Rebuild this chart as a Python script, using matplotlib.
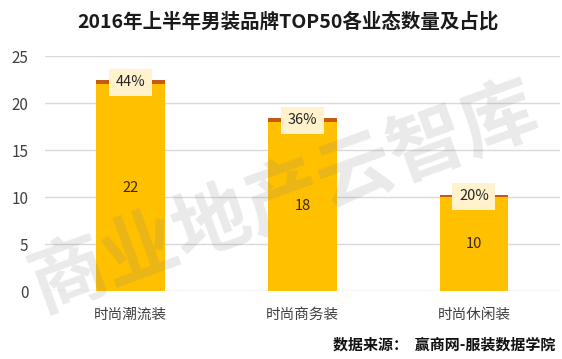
import matplotlib
matplotlib.use("Agg")
import matplotlib.pyplot as plt

plt.rcParams['font.family'] = ['Noto Sans CJK SC', 'DejaVu Sans']

categories = ['时尚潮流装', '时尚商务装', '时尚休闲装']
counts = [22, 18, 10]
shares = [0.44, 0.36, 0.20]
share_labels = ['44%', '36%', '20%']
yticks = [0, 5, 10, 15, 20, 25]

fig = plt.figure(figsize=(5.62, 3.59), dpi=100)
ax = fig.add_axes([0.080, 0.1894, 0.916, 0.6546])

x = list(range(len(categories)))
ax.bar(x, counts, width=0.40, color='#FFC000', zorder=2)
ax.bar(x, shares, width=0.40, bottom=counts, color='#C55A11', zorder=2)

for xi, c, s, lab in zip(x, counts, shares, share_labels):
    ax.text(xi, c / 2, str(c), ha='center', va='center', fontsize=10.5,
            color='#3A2A00', zorder=4)
    ax.text(xi, c + s / 2, lab, ha='center', va='center', fontsize=10.5,
            color='#262626', zorder=4,
            bbox=dict(boxstyle='square,pad=0.45', fc='#FFF2CC', ec='none'))

ax.set_xlim(-0.5, 2.5)
ax.set_ylim(0, 25)
ax.set_yticks(yticks)
ax.set_xticks(x)
ax.set_xticklabels(categories, fontsize=10.5, color='#404040')
ax.tick_params(axis='y', labelsize=11, colors='#404040', length=0, pad=12)
ax.tick_params(axis='x', length=0, pad=12)
ax.grid(axis='y', color='#D9D9D9', linewidth=1, zorder=0)
for sp in ax.spines.values():
    sp.set_visible(False)

fig.text(0.513, 0.939, '2016年上半年男装品牌TOP50各业态数量及占比', ha='center',
         va='center', fontsize=14, fontweight='bold', color='#1a1a1a')

fig.text(0.988, 0.04, '数据来源：  赢商网-服装数据学院', ha='right', va='center',
         fontsize=10.8, fontweight='bold', color='#111111')

fig.text(0.507, 0.45, '商业地产云智库', ha='center', va='center', rotation=20,
         fontsize=55, fontweight='bold', color='#888888', alpha=0.18, zorder=10)

fig.savefig('out.png', dpi=100)
